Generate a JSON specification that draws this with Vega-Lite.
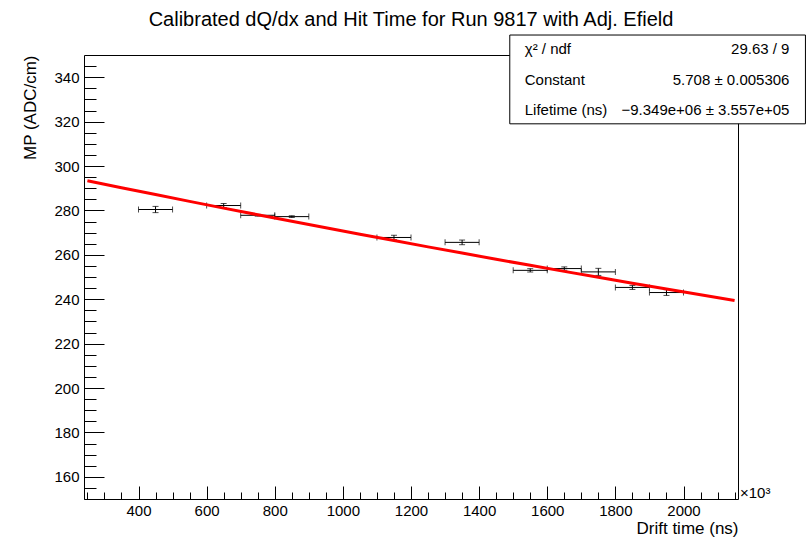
{
  "$schema": "https://vega.github.io/schema/vega-lite/v6.json",
  "width": 654,
  "height": 444,
  "autosize": {"type": "none"},
  "padding": {"left": 84, "top": 55, "right": 68, "bottom": 39},
  "background": "white",
  "title": {"text": "Calibrated dQ/dx and Hit Time for Run 9817 with Adj. Efield", "font": "Liberation Sans", "fontSize": 20, "fontWeight": "normal", "color": "black", "anchor": "middle", "offset": 5},
  "config": {
    "view": {"stroke": "black", "strokeWidth": 1},
    "font": "Liberation Sans",
    "axis": {"domain": false, "grid": false, "labelFont": "Liberation Sans", "labelFontSize": 15, "labelColor": "black", "tickColor": "black", "tickWidth": 1, "titleFont": "Liberation Sans", "titleFontSize": 17, "titleFontWeight": "normal", "titleColor": "black", "format": "d"}
  },
  "datasets": {
    "points": [
      {"t": 450, "et": 50, "mp": 280.4, "ey": 1.4},
      {"t": 650, "et": 50, "mp": 282.2, "ey": 0.9},
      {"t": 750, "et": 50, "mp": 277.8, "ey": 0.4},
      {"t": 850, "et": 50, "mp": 277.2, "ey": 0.4},
      {"t": 1150, "et": 50, "mp": 267.8, "ey": 1.0},
      {"t": 1350, "et": 50, "mp": 265.6, "ey": 1.05},
      {"t": 1550, "et": 50, "mp": 253.0, "ey": 0.75},
      {"t": 1650, "et": 50, "mp": 253.8, "ey": 0.75},
      {"t": 1750, "et": 50, "mp": 252.3, "ey": 1.6},
      {"t": 1850, "et": 50, "mp": 245.3, "ey": 0.9},
      {"t": 1950, "et": 50, "mp": 243.0, "ey": 1.3}
    ],
    "fit": [
      {"t": 250, "mp": 293.32},
      {"t": 350, "mp": 290.20},
      {"t": 450, "mp": 287.12},
      {"t": 550, "mp": 284.06},
      {"t": 650, "mp": 281.03},
      {"t": 750, "mp": 278.05},
      {"t": 850, "mp": 275.09},
      {"t": 950, "mp": 272.16},
      {"t": 1050, "mp": 269.27},
      {"t": 1150, "mp": 266.40},
      {"t": 1250, "mp": 263.57},
      {"t": 1350, "mp": 260.77},
      {"t": 1450, "mp": 257.99},
      {"t": 1550, "mp": 255.25},
      {"t": 1650, "mp": 252.53},
      {"t": 1750, "mp": 249.85},
      {"t": 1850, "mp": 247.19},
      {"t": 1950, "mp": 244.56},
      {"t": 2050, "mp": 241.96},
      {"t": 2150, "mp": 239.38}
    ],
    "stats": [
      {"name": "χ² / ndf", "val": "29.63 / 9"},
      {"name": "Constant", "val": "5.708 ± 0.005306"},
      {"name": "Lifetime (ns)", "val": "−9.349e+06 ± 3.557e+05"}
    ]
  },
  "resolve": {"axis": {"x": "independent", "y": "independent"}},
  "layer": [
    {
      "data": {"name": "points"},
      "mark": {"type": "errorbar", "color": "black", "thickness": 1, "ticks": {"color": "black", "size": 6, "thickness": 1}},
      "encoding": {
        "x": {"field": "t", "type": "quantitative", "scale": {"domain": [240, 2160], "nice": false, "zero": false},
              "axis": {"orient": "bottom", "values": [400, 600, 800, 1000, 1200, 1400, 1600, 1800, 2000], "tickSize": -13, "labels": false, "title": null}},
        "xError": {"field": "et"},
        "y": {"field": "mp", "type": "quantitative", "scale": {"domain": [150, 350], "nice": false, "zero": false},
              "axis": {"orient": "left", "values": [160, 180, 200, 220, 240, 260, 280, 300, 320, 340], "tickSize": -20, "labels": false, "title": null}}
      }
    },
    {
      "data": {"name": "points"},
      "mark": {"type": "errorbar", "color": "black", "thickness": 1, "ticks": {"color": "black", "size": 6, "thickness": 1}},
      "encoding": {
        "x": {"field": "t", "type": "quantitative",
              "axis": {"orient": "bottom", "values": [250, 300, 350, 400, 450, 500, 550, 600, 650, 700, 750, 800, 850, 900, 950, 1000, 1050, 1100, 1150, 1200, 1250, 1300, 1350, 1400, 1450, 1500, 1550, 1600, 1650, 1700, 1750, 1800, 1850, 1900, 1950, 2000, 2050, 2100, 2150], "tickSize": -7, "labels": false, "title": null}},
        "y": {"field": "mp", "type": "quantitative",
              "axis": {"orient": "left", "values": [150, 155, 165, 170, 175, 185, 190, 195, 205, 210, 215, 225, 230, 235, 245, 250, 255, 265, 270, 275, 285, 290, 295, 305, 310, 315, 325, 330, 335, 345], "tickSize": -12, "labels": false, "title": null}},
        "yError": {"field": "ey"}
      }
    },
    {
      "data": {"name": "fit"},
      "mark": {"type": "line", "color": "#ff0000", "strokeWidth": 3},
      "encoding": {
        "x": {"field": "t", "type": "quantitative",
              "axis": {"orient": "bottom", "values": [400, 600, 800, 1000, 1200, 1400, 1600, 1800, 2000], "ticks": false, "labelPadding": 4, "labelFlush": false, "title": "Drift time (ns)", "titleAnchor": "end", "titlePadding": 2}},
        "y": {"field": "mp", "type": "quantitative",
              "axis": {"orient": "left", "values": [160, 180, 200, 220, 240, 260, 280, 300, 320, 340], "ticks": false, "labelPadding": 5, "labelFlush": false, "title": "MP (ADC/cm)", "titleAnchor": "end", "titlePadding": 14}}
      }
    },
    {
      "data": {"values": [{}]},
      "mark": {"type": "rect", "fill": "white", "stroke": "black", "strokeWidth": 1},
      "encoding": {
        "x": {"datum": 1490, "type": "quantitative", "axis": null},
        "x2": {"datum": 2358},
        "y": {"datum": 359, "type": "quantitative", "axis": null},
        "y2": {"datum": 319}
      }
    },
    {
      "data": {"name": "stats"},
      "transform": [{"filter": "datum.name === 'χ² / ndf'"}],
      "layer": [
        {"mark": {"type": "text", "align": "left", "baseline": "alphabetic", "fontSize": 15, "color": "black"},
         "encoding": {"x": {"datum": 1534, "type": "quantitative", "axis": null}, "y": {"datum": 350.4, "type": "quantitative", "axis": null}, "text": {"field": "name"}}},
        {"mark": {"type": "text", "align": "right", "baseline": "alphabetic", "fontSize": 15, "color": "black"},
         "encoding": {"x": {"datum": 2311, "type": "quantitative", "axis": null}, "y": {"datum": 350.4, "type": "quantitative", "axis": null}, "text": {"field": "val"}}}
      ]
    },
    {
      "data": {"name": "stats"},
      "transform": [{"filter": "datum.name === 'Constant'"}],
      "layer": [
        {"mark": {"type": "text", "align": "left", "baseline": "alphabetic", "fontSize": 15, "color": "black"},
         "encoding": {"x": {"datum": 1534, "type": "quantitative", "axis": null}, "y": {"datum": 336.5, "type": "quantitative", "axis": null}, "text": {"field": "name"}}},
        {"mark": {"type": "text", "align": "right", "baseline": "alphabetic", "fontSize": 15, "color": "black"},
         "encoding": {"x": {"datum": 2311, "type": "quantitative", "axis": null}, "y": {"datum": 336.5, "type": "quantitative", "axis": null}, "text": {"field": "val"}}}
      ]
    },
    {
      "data": {"name": "stats"},
      "transform": [{"filter": "datum.name === 'Lifetime (ns)'"}],
      "layer": [
        {"mark": {"type": "text", "align": "left", "baseline": "alphabetic", "fontSize": 15, "color": "black"},
         "encoding": {"x": {"datum": 1534, "type": "quantitative", "axis": null}, "y": {"datum": 323, "type": "quantitative", "axis": null}, "text": {"field": "name"}}},
        {"mark": {"type": "text", "align": "right", "baseline": "alphabetic", "fontSize": 15, "color": "black"},
         "encoding": {"x": {"datum": 2311, "type": "quantitative", "axis": null}, "y": {"datum": 323, "type": "quantitative", "axis": null}, "text": {"field": "val"}}}
      ]
    },
    {
      "data": {"values": [{"label": "×10³"}]},
      "mark": {"type": "text", "align": "left", "baseline": "alphabetic", "fontSize": 15, "color": "black", "dx": 2, "dy": -1},
      "encoding": {
        "x": {"datum": 2160, "type": "quantitative", "axis": null},
        "y": {"datum": 150, "type": "quantitative", "axis": null},
        "text": {"field": "label"}
      }
    }
  ]
}
